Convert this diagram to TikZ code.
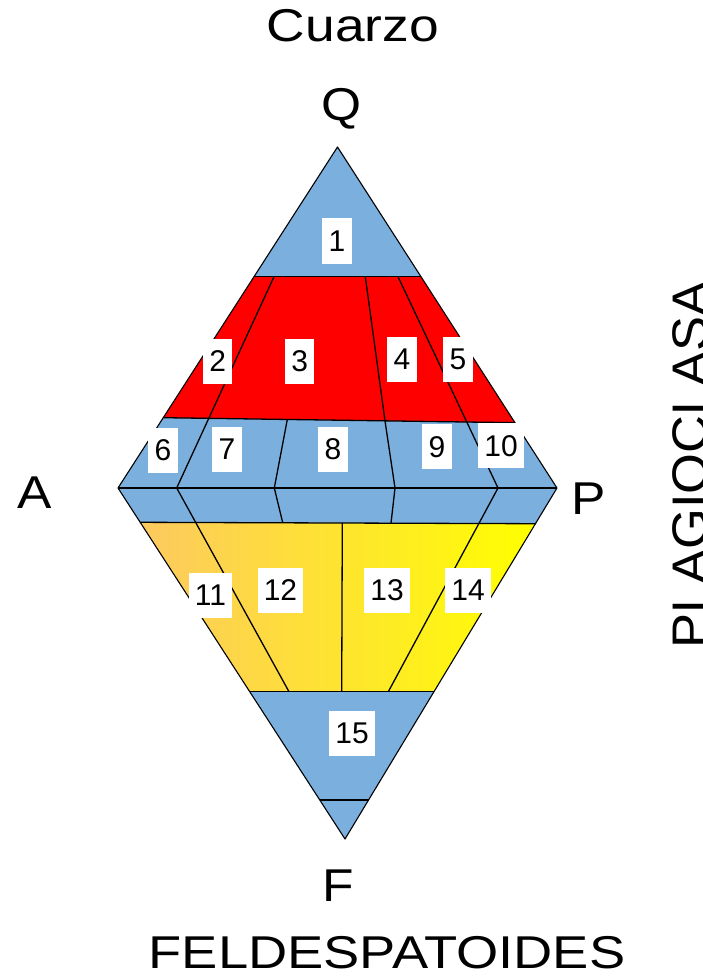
\documentclass[tikz,border=0pt]{standalone}
\usepackage{fontspec}
\setmainfont{Liberation Sans}
\usepackage{graphicx}
\definecolor{qblue}{RGB}{123,175,222}
\definecolor{qred}{RGB}{255,0,0}
\definecolor{ylL}{RGB}{253,201,96}
\definecolor{ylR}{RGB}{255,255,0}
\tikzset{
  edge/.style={draw=black, line width=1.3pt},
  numbox/.style={fill=white, draw=none, minimum height=45pt, minimum width=27pt,
    inner xsep=6.3pt, inner ysep=0pt, font=\fontsize{30}{31}\selectfont},
  biglabel/.style={inner sep=0pt, anchor=base, font=\fontsize{46}{50}\selectfont}
}
\begin{document}
\begin{tikzpicture}[x=1pt,y=-1pt,line join=round]
\useasboundingbox (0,0) rectangle (702,976);
\clip (0,0) rectangle (702,976);
\fill[white] (0,0) rectangle (702,976);

% corner points
\coordinate (Q) at (337.5,147);
\coordinate (A) at (118,488);
\coordinate (P) at (557,488);
\coordinate (F) at (345,839);
% band limits
\coordinate (L1) at (254,276.7);   \coordinate (R1) at (421,276.7);
\coordinate (L2) at (163.3,417.7); \coordinate (R2) at (515,422.7);
\coordinate (L3) at (140.4,522.3); \coordinate (R3) at (535.2,523.7);
\coordinate (L4) at (249.7,691.7); \coordinate (R4) at (434,691.7);
\coordinate (L5) at (319.8,800);   \coordinate (R5) at (368.6,800);
% dividers
\coordinate (a1) at (274,276.7);  \coordinate (a3) at (176.7,488); \coordinate (a5) at (289,691.7);
\coordinate (b1) at (365.3,276.7); \coordinate (b2) at (385,420.9); \coordinate (b3) at (395,488); \coordinate (b4) at (391,523.2);
\coordinate (c1) at (398,276.7); \coordinate (c3) at (498,488); \coordinate (c5) at (388.3,691.7);
\coordinate (e1) at (287.3,419.5); \coordinate (e2) at (274.3,488); \coordinate (e3) at (282.7,522.6);
\coordinate (f1) at (342.3,522.9); \coordinate (f2) at (341.7,691.7);

% fills
\fill[qblue] (Q)--(P)--(F)--(A)--cycle;
\fill[qred] (L1)--(R1)--(R2)--(L2)--cycle;
\shade[left color=ylL, right color=ylR] (L3)--(R3)--(R4)--(L4)--cycle;

% lines
\draw[edge] (L2)--(R2);
\draw[edge] (A)--(P);
\draw[edge] (L3)--(R3);
\draw[edge] (L4)--(R4);
\draw[edge] (L5)--(R5);
\draw[edge] (a1)--(a3)--(a5);
\draw[edge] (b1)--(b2)--(b3)--(b4);
\draw[edge] (c1)--(c3)--(c5);
\draw[edge] (e1)--(e2)--(e3);
\draw[edge] (f1)--(f2);
\draw[edge] (L1)--(R1);
\draw[edge, line width=1.1pt] (Q)--(P)--(F)--(A)--cycle;

% number boxes
\node[numbox] (n1) at (337,241) {1};
\node[numbox] (n2) at (217.7,361) {2};
\node[numbox] (n3) at (299.7,361) {3};
\node[numbox] (n4) at (402,359.5) {4};
\node[numbox] (n5) at (458,359) {5};
\node[numbox] (n6) at (163,450) {6};
\node[numbox] (n7) at (227,449) {7};
\node[numbox] (n8) at (333,449.5) {8};
\node[numbox] (n9) at (437,446.7) {9};
\node[numbox] (n10) at (501,445.8) {10};
\node[numbox] (n11) at (210.5,595.3) {11};
\node[numbox] (n12) at (280.5,590) {12};
\node[numbox] (n13) at (387,590.5) {13};
\node[numbox] (n14) at (468,590) {14};
\node[numbox] (n15) at (352,733) {15};

% outer labels
\node[biglabel] (cuarzo) at (353,42) {\scalebox{1.16}[1]{Cuarzo}};
\node[biglabel] (lq) at (342,121) {\scalebox{1.12}[1]{Q}};
\node[biglabel] (la) at (35,508) {\scalebox{1.12}[1]{A}};
\node[biglabel] (lp) at (589,514) {\scalebox{1.12}[1]{P}};
\node[biglabel] (lf) at (338,901) {\scalebox{1.12}[1]{F}};
\node[biglabel] (feld) at (387,968) {\scalebox{1.18}[1]{FELDESPATOIDES}};
\node[inner sep=0pt, anchor=base west, rotate=90, font=\fontsize{50}{54}\selectfont]
  (plag) at (707,649) {\scalebox{1.05}[1]{PLAGIOCLASA}};
\end{tikzpicture}
\end{document}
